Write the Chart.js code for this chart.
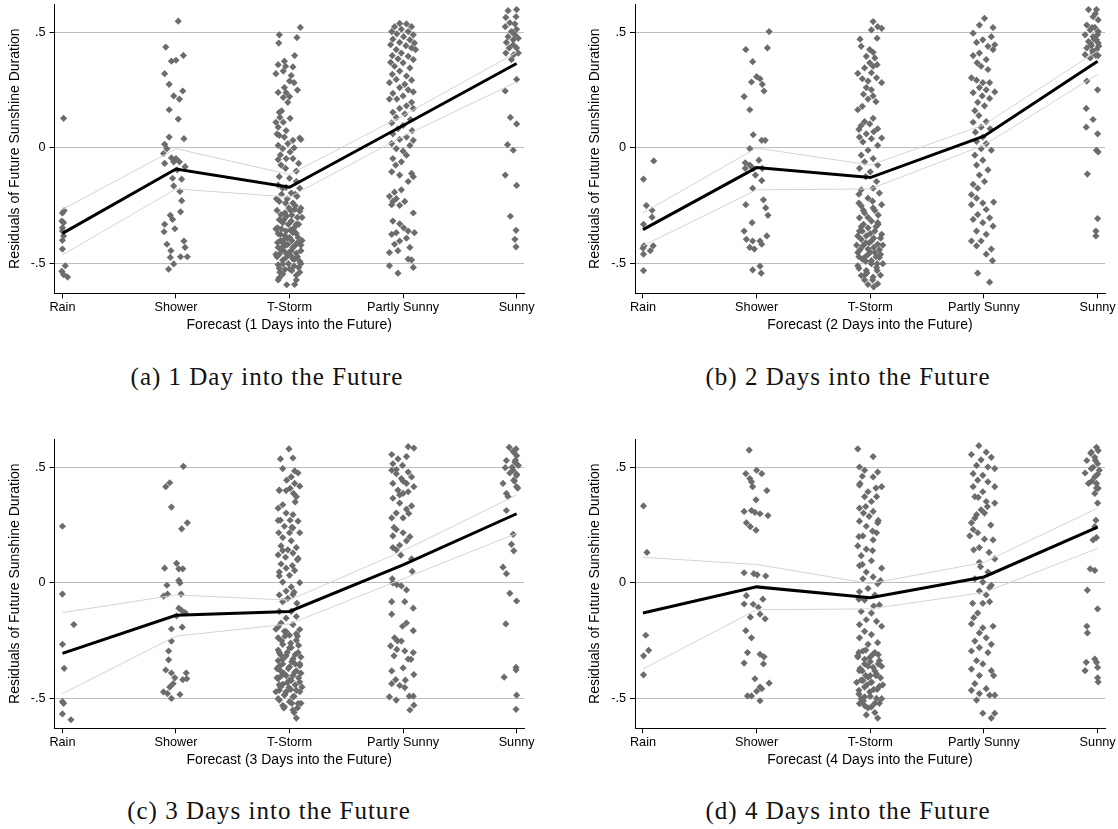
<!DOCTYPE html>
<html>
<head>
<meta charset="utf-8">
<script src="https://cdn.jsdelivr.net/npm/chart.js@4.4.1/dist/chart.umd.min.js"></script>
<style>
  html, body { margin: 0; padding: 0; background: #fff; }
  body { width: 1118px; height: 829px; position: relative; overflow: hidden; }
  .panel { position: absolute; }
  .cap { position: absolute; width: 520px; text-align: center; font-family: "Liberation Serif", "Times New Roman", serif; font-size: 25px; letter-spacing: 1px; line-height: 30px; color: #111; }
</style>
</head>
<body>
<div class="panel" style="left:0px;top:0px;"><canvas id="c0" width="540" height="340"></canvas></div>
<div class="panel" style="left:580px;top:0px;"><canvas id="c1" width="538" height="340"></canvas></div>
<div class="panel" style="left:0px;top:435px;"><canvas id="c2" width="540" height="340"></canvas></div>
<div class="panel" style="left:580px;top:435px;"><canvas id="c3" width="538" height="340"></canvas></div>
<div class="cap" id="cap0" style="left:7px;top:362px;"></div>
<div class="cap" id="cap1" style="left:588px;top:362px;"></div>
<div class="cap" id="cap2" style="left:9px;top:796px;"></div>
<div class="cap" id="cap3" style="left:588px;top:796px;"></div>
<script>
// ---------------- DATA ----------------
const categories = ['Rain', 'Shower', 'T-Storm', 'Partly Sunny', 'Sunny'];
const yTickValues = [-0.5, 0, 0.5];
const yTickLabels = ['-.5', '0', '.5'];
const yAxisTitle = 'Residuals of Future Sunshine Duration';
const xAxisTitles = ['Forecast (1 Days into the Future)', 'Forecast (2 Days into the Future)', 'Forecast (3 Days into the Future)', 'Forecast (4 Days into the Future)'];
const captions = ['(a) 1 Day into the Future', '(b) 2 Days into the Future', '(c) 3 Days into the Future', '(d) 4 Days into the Future'];

// fitted means and confidence bands per category (Rain..Sunny)
const a_mean = [-0.369, -0.091, -0.170, 0.097, 0.365];
const a_upper = [-0.266, -0.003, -0.115, 0.140, 0.413];
const a_lower = [-0.462, -0.177, -0.212, 0.050, 0.285];
const b_mean = [-0.353, -0.085, -0.128, 0.051, 0.375];
const b_upper = [-0.281, 0.000, -0.074, 0.100, 0.420];
const b_lower = [-0.423, -0.181, -0.177, 0.012, 0.318];
const c_mean = [-0.304, -0.140, -0.123, 0.078, 0.299];
const c_upper = [-0.128, -0.052, -0.074, 0.139, 0.380];
const c_lower = [-0.478, -0.230, -0.177, 0.018, 0.214];
const d_mean = [-0.130, -0.017, -0.064, 0.026, 0.241];
const d_upper = [0.111, 0.080, -0.003, 0.089, 0.323];
const d_lower = [-0.372, -0.116, -0.112, -0.041, 0.149];

// residual observations: [jitter (category units), residual]
const a_rain = [[.01,.128],[.015,-.271],[0,-.281],[-.005,-.316],[.01,-.323],[0,-.345],[0,-.359],[.01,-.38],[0,-.399],[0,-.437],[.025,-.509],[-.005,-.533],[.01,-.547],[.045,-.558]];
const a_shower = [[.02,.548],[-.09,.436],[-.04,.375],[0,.379],[.065,.4],[-.1,.321],[-.06,.275],[-.02,.225],[.06,.246],[.03,.211],[-.06,.165],[.02,.125],[-.06,.047],[.07,.04],[-.1,.016],[-.08,-.003],[-.11,-.024],[-.04,-.043],[0,-.046],[-.1,-.067],[-.02,-.06],[.03,-.06],[.08,-.081],[.01,-.095],[-.03,-.131],[.05,-.135],[-.02,-.164],[.035,-.188],[.05,-.228],[.04,-.276],[-.05,-.291],[-.03,-.309],[-.1,-.33],[-.01,-.349],[-.105,-.362],[.07,-.402],[-.08,-.416],[-.045,-.444],[.08,-.43],[.04,-.47],[.1,-.47],[-.05,-.473],[-.02,-.501],[-.065,-.524]];
const a_tstorm = [[.095,.521],[-.09,.489],[.065,.477],[-.095,.453],[.045,.399],[-.045,.375],[-.035,.353],[-.055,.332],[-.12,.321],[.015,.313],[0,.289],[.04,.282],[-.045,.261],[-.03,.239],[-.055,.218],[0,.222],[-.015,.197],[-.09,.154],[-.085,.132],[-.12,.111],[-.055,.111],[.005,.128],[-.1,.09],[-.03,.075],[-.09,.054],[-.045,.047],[.09,.043],[.1,.037],[.03,.033],[-.015,.019],[-.1,.011],[-.06,-.003],[.005,-.017],[-.03,-.046],[.03,-.046],[.08,-.067],[-.075,-.074],[-.035,-.088],[-.09,-.124],[0,-.131],[.06,-.145],[.09,-.174],[-.06,-.174],[.015,-.195],[.065,-.209],[-.09,-.231],[-.035,-.238],[.03,-.238],[-.005,-.259],[.045,-.266],[.09,-.274],[-.075,-.288],[-.025,-.295],[.015,-.316],[-.06,-.323],[.06,-.33],[-.105,-.345],[-.03,-.359],[.03,-.366],[-.08,-.373],[0,-.387],[-.045,-.395],[.075,-.387],[-.105,-.409],[-.015,-.416],[.045,-.423],[-.065,-.43],[.015,-.444],[.1,-.444],[-.09,-.459],[-.03,-.473],[.045,-.48],[-.06,-.501],[.08,-.516],[0,-.523],[-.085,-.537],[.09,-.537],[-.09,-.561],[-.025,-.591],[.045,-.59],
  [-.1,-.16],[-.07,-.2],[-.02,-.22],[.05,-.25],[-.11,-.27],[-.04,-.28],[.02,-.29],[.07,-.3],[-.09,-.31],[-.01,-.33],[.04,-.345],[-.07,-.35],[.01,-.355],[-.1,-.37],[.06,-.37],[-.04,-.38],[.02,-.4],[-.08,-.4],[.07,-.41],[-.03,-.42],[-.1,-.43],[.03,-.43],[-.05,-.445],[.06,-.455],[-.02,-.46],[-.11,-.47],[.02,-.47],[-.06,-.485],[.09,-.49],[-.01,-.5],[-.1,-.505],[.04,-.51],[-.04,-.525],[.06,-.55],[-.06,-.545],[.1,-.5],[.08,-.33],[-.115,-.22],[.1,-.26],
  [-.12,-.35],[.11,-.4],[-.02,-.39],[.04,-.36],[-.07,-.44],[.07,-.47],[-.09,-.52],[.02,-.53],[.11,-.3],[-.05,-.31],[.05,-.2],[-.03,-.17],[-.12,-.46],[0,-.45],[.1,-.42],[-.06,-.41],[.03,-.48],[-.1,-.57],[.06,-.57],[.01,-.27],
  [-.11,.06],[-.08,-.03],[.06,-.1],[-.1,-.05],[.04,0],[-.07,.16],[-.1,.24],[.03,.35],[-.1,.36],[.07,.25]];
const a_psunny = [[-.03,.538],[.03,.536],[-.075,.524],[.075,.524],[-.015,.513],[-.1,.503],[.045,.503],[-.055,.493],[.09,.489],[.005,.481],[-.09,.47],[.06,.467],[-.03,.456],[.1,.453],[-.11,.446],[.025,.442],[.075,.432],[-.06,.425],[.11,.425],[-.015,.41],[-.095,.399],[.045,.396],[-.045,.385],[.09,.382],[-.11,.37],[0,.368],[-.075,.353],[.06,.346],[-.03,.332],[-.095,.318],[.03,.311],[-.06,.296],[.075,.293],[-.12,.282],[.015,.275],[-.03,.261],[.045,.251],[.09,.242],[-.09,.236],[0,.225],[-.055,.211],[-.12,.211],[.075,.197],[.03,.182],[-.03,.171],[.09,.171],[-.09,.154],[.015,.147],[-.06,.132],[.065,.123],[-.1,.108],[0,.097],[-.045,.083],[.08,.075],[-.09,.061],[.03,.047],[-.03,.037],[.09,.033],[-.1,.019],[-.06,-.003],[.06,.011],[0,-.014],[.03,-.031],[-.09,-.046],[-.015,-.06],[-.065,-.074],[-.1,-.103],[.075,-.11],[-.03,-.117],[.09,-.124],[.045,-.145],
  [-.015,-.181],[-.075,-.191],[-.12,-.209],[-.06,-.219],[-.09,-.231],[.015,-.231],[-.03,-.248],[-.1,-.245],[.09,-.281],[-.09,-.316],[-.03,-.328],[.005,-.345],[.045,-.359],[-.06,-.366],[.1,-.366],[-.1,-.373],[.03,-.39],[-.03,-.402],[-.075,-.416],[.06,-.43],[-.12,-.452],[-.045,-.444],[.045,-.48],[.075,-.484],[-.12,-.509],[.09,-.516],[-.045,-.541]];
const a_sunny = [[0,.598],[-.075,.593],[-.095,.564],[-.005,.567],[-.06,.541],[-.015,.536],[-.1,.524],[0,.513],[-.045,.503],[-.015,.489],[-.075,.481],[.015,.474],[-.09,.456],[-.03,.446],[0,.432],[-.095,.41],[-.025,.403],[-.03,.467],[-.065,.432],[.015,.41],[-.045,.382],[0,.296],[-.1,.246],[-.055,.132],[0,.104],[-.08,.014],[-.03,-.01],[-.1,-.117],[0,-.162],[-.055,-.295],[-.005,-.356],[-.015,-.395],[-.005,-.427]];

const b_rain = [[.095,-.056],[.005,-.135],[.03,-.249],[.08,-.269],[.08,-.299],[.005,-.33],[.01,-.423],[0,-.433],[.005,-.459],[.065,-.444],[.09,-.423],[.005,-.53]];
const b_shower = [[.11,.503],[-.095,.425],[.095,.432],[-.035,.373],[0,.308],[.03,.299],[-.045,.285],[.05,.275],[.065,.246],[-.11,.222],[-.06,.165],[-.03,.057],[.045,.033],[.075,.033],[-.06,-.003],[.02,-.053],[-.1,-.064],[-.06,-.074],[-.03,-.088],[-.1,-.088],[.05,-.088],[-.01,-.117],[.045,-.141],[-.035,-.174],[-.095,-.245],[.06,-.224],[.08,-.259],[.1,-.291],[-.04,-.323],[-.11,-.359],[-.09,-.395],[-.035,-.402],[-.06,-.43],[.03,-.402],[.09,-.38],[-.02,-.437],[.045,-.416],[-.035,-.527],[.03,-.511],[.04,-.541]];
const b_tstorm = [[.025,.546],[.065,.524],[.01,.51],[.1,.517],[.06,.474],[-.08,.439],[-.005,.425],[.025,.413],[-.035,.396],[.04,.389],[-.005,.368],[-.05,.346],[.025,.353],[-.11,.322],[.01,.325],[-.07,.299],[-.02,.289],[.055,.303],[.1,.282],[-.035,.261],[.01,.251],[-.06,.232],[.025,.225],[-.02,.211],[-.11,.165],[-.05,.114],[.025,.128],[-.08,.097],[-.005,.104],[.065,.083],[-.035,.061],[-.095,.047],[.01,.04],[.1,.043],[-.065,.026],[.065,.011],[-.02,-.01],[-.08,-.031],[.025,-.046],[-.05,-.06],[.065,-.074],[-.095,-.088],[0,-.103],[-.04,-.124],[.055,-.145],[-.08,-.181],[.025,-.174],[.08,-.195],[-.02,-.217],[-.1,-.238],[.1,-.245],[.025,-.259],[-.05,-.281],[-.095,-.302],[.01,-.316],[.065,-.323],[-.06,-.33],[-.02,-.345],[-.095,-.359],[.04,-.359],[.1,-.373],[-.035,-.38],[-.08,-.395],[.01,-.402],[.065,-.416],[-.065,-.423],[-.02,-.437],[-.11,-.452],[.04,-.452],[.08,-.473],[-.05,-.473],[.01,-.487],[-.11,-.509],[.055,-.516],[-.035,-.53],[-.08,-.551],[.025,-.558],[-.02,-.59],[.065,-.587],
  [-.1,-.2],[.02,-.23],[-.06,-.27],[.07,-.29],[-.02,-.3],[.05,-.34],[-.08,-.34],[0,-.37],[-.11,-.38],[.09,-.39],[-.04,-.41],[.03,-.43],[-.09,-.44],[.08,-.44],[-.02,-.46],[.05,-.47],[-.07,-.48],[.01,-.5],[-.1,-.52],[.06,-.53],[-.03,-.54],[.09,-.55],[-.05,-.57],[.03,-.6],
  [-.12,-.42],[.11,-.5],[-.04,-.49],[.03,-.39],[-.07,-.36],[.07,-.33],[-.1,-.47],[0,-.45],[.09,-.46],[-.05,-.55],[.02,-.57],[.11,-.42],[-.08,-.25],[.04,-.27],[-.01,-.41],[.06,-.5],
  [-.09,.47],[.06,.36],[-.07,.18],[.05,.2],[-.1,.08],[.03,.07]];
const b_psunny = [[.005,.56],[.08,.52],[-.04,.531],[-.095,.496],[.065,.481],[-.01,.467],[-.065,.456],[.095,.446],[.035,.439],[.08,.425],[-.04,.41],[-.095,.399],[.02,.382],[-.06,.368],[-.025,.353],[.035,.339],[-.11,.303],[-.065,.293],[-.01,.282],[.05,.282],[-.04,.261],[.02,.251],[.095,.242],[-.095,.239],[-.015,.225],[.05,.214],[-.055,.197],[.005,.182],[-.08,.161],[-.045,.14],[-.095,.111],[.02,.114],[-.025,.09],[-.075,.068],[.055,.083],[-.01,.047],[-.065,.028],[.02,.019],[-.025,-.003],[.065,-.01],[-.08,-.031],[-.01,-.053],[-.065,-.074],[.035,-.095],[-.04,-.117],[.005,-.145],[-.095,-.157],[-.055,-.174],[-.11,-.202],[-.065,-.217],[-.01,-.238],[.085,-.234],[-.11,-.245],[.02,-.266],[-.055,-.288],[-.095,-.309],[.05,-.302],[-.01,-.323],[.08,-.338],[-.065,-.359],[.02,-.373],[-.11,-.402],[-.025,-.402],[-.065,-.423],[.065,-.437],[.02,-.459],[.075,-.487],[-.055,-.541],[.05,-.58]];
const b_sunny = [[-.08,.598],[-.01,.598],[-.04,.567],[.005,.553],[-.095,.531],[-.025,.521],[-.065,.51],[.005,.503],[-.11,.489],[-.04,.481],[-.01,.467],[-.08,.46],[.005,.453],[-.055,.442],[-.095,.432],[-.01,.425],[-.04,.41],[.005,.399],[-.11,.403],[-.065,.389],[-.02,.58],[-.05,.52],[0,.49],[-.03,.47],[-.06,.45],[.01,.44],[-.045,.42],[-.015,.4],[-.095,.289],[0,.251],[-.1,.171],[-.04,.123],[-.1,.09],[0,.061],[-.01,-.01],[.005,-.017],[-.09,-.113],[0,-.305],[-.015,-.359],[-.015,-.38]];

const c_rain = [[0,.245],[0,-.048],[.1,-.18],[0,-.265],[.015,-.369],[0,-.513],[.01,-.52],[0,-.566],[.075,-.591]];
const c_shower = [[.065,.504],[-.09,.416],[-.055,.433],[-.04,.328],[.1,.26],[.05,.234],[.005,.085],[-.1,.064],[.025,.061],[.06,.061],[-.08,-.01],[.025,.011],[.035,0],[-.11,-.057],[-.075,-.048],[.045,-.048],[.025,-.109],[.05,-.119],[.08,-.128],[.005,-.142],[-.04,-.199],[.055,-.191],[-.04,-.251],[-.065,-.294],[-.065,-.332],[-.09,-.376],[-.04,-.389],[.09,-.389],[-.01,-.41],[.06,-.418],[.095,-.414],[-.025,-.435],[-.055,-.45],[-.11,-.471],[-.075,-.478],[.035,-.482],[-.04,-.499]];
const c_tstorm = [[-.005,.579],[-.08,.536],[.03,.54],[-.06,.494],[.045,.484],[.075,.475],[.015,.458],[-.025,.444],[.045,.43],[.09,.418],[-.09,.401],[-.03,.399],[.005,.409],[.035,.387],[.06,.373],[-.06,.338],[-.1,.323],[-.03,.302],[.03,.295],[-.08,.271],[.005,.271],[.075,.267],[-.045,.245],[.03,.238],[-.095,.217],[0,.217],[.09,.217],[-.06,.196],[.015,.182],[-.075,.16],[.06,.153],[-.015,.143],[-.1,.121],[.03,.129],[-.035,.111],[.075,.106],[-.075,.082],[.025,.075],[-.03,.064],[-.09,.047],[.045,.054],[0,.033],[.09,.001],[-.06,.004],[.015,-.017],[-.03,-.035],[-.09,-.052],[.03,-.05],[-.015,-.067],[-.06,-.081],[.065,-.088],[-.09,-.123],[.015,-.123],[-.03,-.152],[.06,-.145],[-.075,-.173],[.03,-.18],[.09,-.201],[-.045,-.209],[0,-.226],[-.1,-.237],[.06,-.248],[-.06,-.265],[.015,-.279],[-.09,-.301],[.075,-.301],[-.03,-.315],[.03,-.329],[-.1,-.336],[-.06,-.35],[0,-.362],[.09,-.357],[-.08,-.379],[.045,-.386],[-.03,-.4],[-.1,-.414],[.015,-.421],[.09,-.428],[-.06,-.438],[-.005,-.452],[-.09,-.464],[.06,-.464],[-.045,-.485],[.03,-.492],[-.09,-.506],[0,-.513],[.075,-.521],[-.045,-.535],[.03,-.549],[.06,-.584],
  [-.1,-.19],[-.03,-.21],[.06,-.22],[-.07,-.25],[.01,-.26],[.08,-.27],[-.1,-.29],[-.02,-.3],[.05,-.31],[-.06,-.33],[.02,-.34],[.09,-.35],[-.09,-.36],[-.01,-.37],[.06,-.38],[-.05,-.39],[.03,-.4],[-.11,-.41],[.08,-.41],[-.02,-.43],[.05,-.44],[-.08,-.45],[.01,-.46],[.09,-.47],[-.04,-.48],[.04,-.49],[-.1,-.5],[.02,-.52],[-.06,-.53],[.07,-.54],[-.09,-.44],[.1,-.32],
  [-.12,-.47],[.11,-.45],[-.03,-.47],[.05,-.35],[-.08,-.31],[.1,-.39],[-.05,-.54],[.04,-.56],[-.11,-.37],[0,-.28],[.07,-.23],[-.04,-.23],[-.12,-.2],[.1,-.52],[0,-.42],[-.07,-.4],
  [-.09,.4],[.05,.35],[-.1,.27],[.02,.24],[-.06,.14],[.07,.1],[-.09,.03],[.04,-.04]];
const c_psunny = [[.045,.589],[.095,.583],[-.1,.555],[.03,.546],[-.045,.536],[-.09,.515],[-.005,.508],[-.1,.487],[.045,.479],[-.06,.472],[-.015,.451],[.075,.458],[-.09,.43],[.03,.43],[.095,.416],[-.045,.401],[0,.387],[.045,.394],[-.09,.366],[-.03,.345],[.075,.333],[.03,.319],[-.06,.302],[-.1,.281],[0,.281],[-.06,.231],[0,.217],[-.09,.203],[.03,.182],[-.03,.163],[-.09,.153],[-.06,.143],[.075,.104],[-.095,.018],[-.055,-.007],[-.015,-.013],[-.1,-.081],[.015,-.081],[.09,-.109],[-.1,-.135],[.03,-.173],[-.005,-.187],[.09,-.206],[-.075,-.237],[-.015,-.251],[-.11,-.272],[-.055,-.287],[.015,-.294],[.09,-.301],[-.08,-.315],[.045,-.329],[0,-.367],[.095,-.396],[-.065,-.418],[-.1,-.435],[-.03,-.443],[.015,-.452],[-.12,-.492],[-.06,-.506],[.055,-.489],[.09,-.489],[.095,-.528],[.06,-.549],
  [-.06,.49],[0,.44],[-.03,.38],[.05,.3],[-.08,.24],[.06,.2],[-.02,.12],[.08,.05],[-.09,0],[.03,-.03],[-.05,-.25],[.07,-.33],[-.1,-.38],[.02,-.42]];
const c_sunny = [[-.065,.586],[-.005,.579],[-.025,.565],[0,.55],[-.09,.529],[-.015,.522],[.015,.508],[-.1,.498],[-.03,.487],[-.06,.475],[0,.465],[-.025,.444],[-.12,.43],[0,.416],[-.09,.387],[-.075,.373],[-.03,.57],[-.01,.53],[-.04,.5],[0,.47],[-.02,.44],[.01,.41],[-.09,.313],[-.03,.21],[-.045,.167],[-.025,.139],[-.12,.068],[-.09,.04],[-.06,-.045],[0,-.078],[-.095,-.177],[-.005,-.365],[-.005,-.376],[-.11,-.407],[0,-.485],[-.005,-.546]];

const d_rain = [[.005,.333],[.035,.132],[.025,-.226],[.05,-.291],[.005,-.315],[.005,-.397]];
const d_shower = [[-.065,.574],[-.095,.472],[.045,.472],[0,.487],[-.06,.451],[-.045,.437],[-.035,.416],[.09,.399],[-.005,.359],[-.11,.309],[-.045,.313],[-.015,.305],[.03,.299],[.1,.291],[-.09,.26],[-.055,.243],[-.005,.228],[-.11,.044],[-.025,.04],[.005,.035],[.08,.03],[-.09,-.055],[.055,-.07],[-.11,-.091],[-.03,-.092],[.015,-.105],[-.055,-.148],[.03,-.135],[.075,-.155],[-.095,-.206],[-.045,-.237],[-.08,-.301],[.03,-.308],[.065,-.319],[-.11,-.346],[.06,-.35],[-.015,-.414],[.11,-.433],[.045,-.457],[0,-.468],[-.08,-.488],[-.045,-.488],[.03,-.509],[.03,-.45]];
const d_tstorm = [[-.11,.579],[.025,.546],[-.095,.501],[-.05,.487],[.065,.479],[-.07,.461],[.025,.458],[.1,.416],[-.095,.423],[-.02,.394],[-.05,.373],[.055,.373],[.01,.352],[-.095,.323],[-.06,.302],[.025,.309],[-.01,.288],[-.095,.267],[.065,.26],[-.035,.245],[.02,.224],[-.065,.203],[.055,.217],[.025,.186],[-.11,.16],[-.035,.146],[-.08,.118],[.01,.096],[.1,.064],[-.095,.075],[-.035,.047],[.025,.026],[-.065,.018],[.065,-.003],[-.02,-.024],[-.095,-.038],[.04,-.052],[-.05,-.074],[.08,-.095],[-.08,-.123],[.01,-.13],[-.035,-.159],[.055,-.166],[-.095,-.18],[.1,-.187],[-.05,-.209],[.01,-.223],[-.095,-.237],[.065,-.258],[-.02,-.265],[-.065,-.294],[.04,-.301],[-.11,-.315],[-.005,-.322],[.08,-.336],[-.05,-.35],[.025,-.365],[-.095,-.379],[.055,-.393],[-.02,-.407],[-.065,-.421],[.01,-.428],[.08,-.447],[-.1,-.464],[-.005,-.471],[-.05,-.492],[.055,-.499],[-.095,-.521],[.01,-.535],[.065,-.584],[-.035,-.57],
  [-.1,-.3],[.02,-.31],[-.05,-.33],[.07,-.35],[-.02,-.36],[-.09,-.37],[.04,-.38],[-.04,-.4],[.09,-.41],[-.08,-.42],[.01,-.43],[-.05,-.45],[.06,-.46],[-.1,-.48],[0,-.49],[-.06,-.51],[.08,-.52],[-.02,-.54],[.04,-.56],
  [-.12,-.43],[.11,-.44],[-.03,-.44],[.05,-.4],[-.07,-.38],[.1,-.36],[-.05,-.53],[.04,-.52],[-.11,-.32],[0,-.34],[.07,-.31],[-.04,-.29],[.1,-.5],[0,-.4],[-.08,-.5],[.03,-.46],
  [-.09,.43],[.05,.41],[-.04,.33],[.07,.27],[-.1,.2],[.02,.14],[-.07,.08],[.09,.01],[-.1,-.07],[.03,-.1]];
const d_psunny = [[-.045,.593],[-.11,.555],[.02,.565],[.065,.543],[-.025,.532],[-.065,.508],[.035,.501],[.095,.494],[-.095,.472],[-.01,.465],[-.055,.444],[.035,.437],[-.095,.416],[.095,.416],[-.01,.394],[-.08,.373],[.02,.352],[.095,.345],[-.025,.316],[-.065,.295],[.005,.302],[-.11,.26],[-.095,.231],[-.055,.217],[-.125,.203],[.005,.189],[.08,.186],[-.04,.153],[-.09,.143],[.045,.132],[.095,.104],[-.04,.089],[.035,.047],[-.08,.018],[-.01,.004],[.065,-.01],[-.04,-.035],[.02,-.052],[-.1,-.088],[-.01,-.088],[.05,-.081],[-.055,-.13],[-.11,-.177],[-.01,-.194],[.08,-.187],[-.04,-.216],[.02,-.237],[-.08,-.251],[.065,-.265],[-.04,-.279],[-.11,-.294],[.035,-.301],[-.065,-.336],[-.01,-.35],[-.11,-.372],[.065,-.379],[-.04,-.4],[.085,-.4],[-.08,-.435],[.02,-.457],[-.11,-.464],[-.04,-.478],[.05,-.485],[.095,-.485],[-.065,-.506],[-.01,-.563],[.065,-.584],[.095,-.563],
  [-.05,.37],[.03,.33],[-.08,.28],[.06,.25],[-.03,.07],[.05,-.02],[-.09,-.15]];
const d_sunny = [[-.01,.586],[.005,.572],[-.055,.565],[-.025,.543],[-.095,.529],[0,.515],[-.055,.494],[.015,.487],[-.11,.475],[-.025,.458],[-.08,.43],[-.01,.43],[.005,.409],[-.025,.387],[-.06,.56],[-.02,.53],[-.04,.5],[0,.47],[-.05,.44],[-.01,.41],[0,.345],[-.015,.271],[-.025,.243],[-.01,.196],[-.04,.186],[-.065,.061],[-.025,.054],[-.09,-.031],[0,-.112],[-.095,-.187],[-.09,-.216],[-.1,-.343],[-.025,-.329],[-.01,-.343],[0,-.365],[-.11,-.379],[0,-.41],[.005,-.428]];

const panelObs = [
  [a_rain, a_shower, a_tstorm, a_psunny, a_sunny],
  [b_rain, b_shower, b_tstorm, b_psunny, b_sunny],
  [c_rain, c_shower, c_tstorm, c_psunny, c_sunny],
  [d_rain, d_shower, d_tstorm, d_psunny, d_sunny]
];
const panelMean = [a_mean, b_mean, c_mean, d_mean];
const panelUpper = [a_upper, b_upper, c_upper, d_upper];
const panelLower = [a_lower, b_lower, c_lower, d_lower];

// ---------------- STYLE / LAYOUT ----------------
const SANS = "'Liberation Sans', Arial, Helvetica, sans-serif";
const yAxisWidths = [54.5, 55, 54.5, 55];
const rightPads = [16, 13, 16, 13];
const X_AXIS_HEIGHT = 46.7;

function lineData(vals) { return vals.map((v, i) => ({ x: i, y: v })); }

for (let p = 0; p < 4; p++) {
  document.getElementById('cap' + p).textContent = captions[p];
  const pts = [];
  panelObs[p].forEach((arr, i) => arr.forEach(([dx, y]) => pts.push({ x: i + dx, y: y })));
  new Chart(document.getElementById('c' + p), {
    type: 'scatter',
    data: {
      datasets: [
        { data: pts, pointStyle: 'rectRot', pointRadius: 3.6, pointBackgroundColor: '#6c6c6c', pointBorderWidth: 0, showLine: false, order: 3 },
        { data: lineData(panelUpper[p]), showLine: true, borderColor: '#d4d4d4', borderWidth: 1, pointRadius: 0, order: 2 },
        { data: lineData(panelLower[p]), showLine: true, borderColor: '#d4d4d4', borderWidth: 1, pointRadius: 0, order: 2 },
        { data: lineData(panelMean[p]), showLine: true, borderColor: '#000', borderWidth: 3, pointRadius: 0, order: 1 }
      ]
    },
    options: {
      responsive: false,
      animation: false,
      devicePixelRatio: 1,
      layout: { padding: { left: 0, right: rightPads[p], top: 0, bottom: 0 } },
      plugins: { legend: { display: false }, tooltip: { enabled: false } },
      scales: {
        x: {
          type: 'linear', min: -0.07, max: 4.065,
          afterBuildTicks: (s) => { s.ticks = categories.map((c, i) => ({ value: i })); },
          afterFit: (s) => { s.height = X_AXIS_HEIGHT; },
          ticks: { autoSkip: false, maxRotation: 0, padding: 2, color: '#000', font: { family: SANS, size: 12.7 }, callback: (v) => categories[v] },
          grid: { drawOnChartArea: false, drawTicks: true, tickLength: 5, tickColor: '#000' },
          border: { display: true, color: '#000', width: 1 },
          title: { display: true, text: xAxisTitles[p], color: '#000', font: { family: SANS, size: 14 }, padding: { top: 0, bottom: 6.6 } }
        },
        y: {
          type: 'linear', min: -0.628, max: 0.622,
          afterBuildTicks: (s) => { s.ticks = yTickValues.map(v => ({ value: v })); },
          afterFit: (s) => { s.width = yAxisWidths[p]; s.paddingTop = 0; s.paddingBottom = 0; },
          ticks: { padding: 4, color: '#000', font: { family: SANS, size: 12.7 }, callback: (v) => yTickLabels[yTickValues.indexOf(v)] },
          grid: { color: '#bcbcbc', lineWidth: 1, drawTicks: true, tickLength: 5, tickColor: '#000' },
          border: { display: true, color: '#000', width: 1 },
          title: { display: true, text: yAxisTitle, color: '#000', font: { family: SANS, size: 14 }, padding: { top: 6.6, bottom: 0 } }
        }
      }
    }
  });
}
</script>
</body>
</html>
